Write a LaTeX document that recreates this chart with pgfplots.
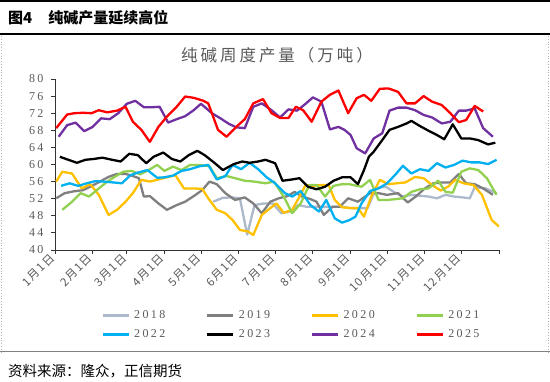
\documentclass[border=0pt]{standalone}
\usepackage{pgfplots}
\pgfplotsset{compat=1.18}
\usepackage{fontspec}
\setmainfont{Noto Sans CJK SC}
\newfontfamily\numfont{Liberation Serif}[LetterSpace=20]
\newfontfamily\spfont{Noto Sans CJK SC}[LetterSpace=18]
\newfontfamily\lblfont{Noto Sans CJK SC}[LetterSpace=10]
\definecolor{c2018}{HTML}{ACB9CA}
\definecolor{c2019}{HTML}{7F7F7F}
\definecolor{c2020}{HTML}{FFC000}
\definecolor{c2021}{HTML}{92D050}
\definecolor{c2022}{HTML}{00B0F0}
\definecolor{c2023}{HTML}{000000}
\definecolor{c2024}{HTML}{7030A0}
\definecolor{c2025}{HTML}{FF0000}
\definecolor{tickgray}{HTML}{595959}
\begin{document}
\begin{tikzpicture}
\path[use as bounding box] (0bp,0bp) rectangle (550bp,382bp);
\draw[line width=2bp] (0bp,381bp) -- (550bp,381bp);
\node[anchor=west, inner sep=0pt, font=\fontsize{15bp}{15bp}\selectfont\bfseries] at (8bp,364.5bp) {图4\hspace{16bp}纯碱产量延续高位};
\draw[line width=1.2bp] (0bp,348bp) -- (550bp,348bp);
\draw[gray!60, dotted, line width=0.8bp] (1bp,346bp) -- (1bp,30bp);
\draw[gray!60, dotted, line width=0.8bp] (548.5bp,346bp) -- (548.5bp,30bp);
\node[font=\spfont\fontsize{16.5bp}{16.5bp}\selectfont, text=tickgray, inner sep=0pt] at (277bp,327bp) {纯碱周度产量（万吨）};
\begin{axis}[
  at={(55bp,132bp)}, anchor=south west,
  scale only axis, width=444bp, height=171bp,
  xmin=0, xmax=365, ymin=40, ymax=80,
  axis x line*=bottom, axis y line*=left,
  axis line style={black!80, line width=0.8bp},
  xtick={0,31,59,90,120,151,181,212,243,273,304,334,365},
  xticklabels={1月1日,2月1日,3月1日,4月1日,5月1日,6月1日,7月1日,8月1日,9月1日,10月1日,11月1日,12月1日,{}},
  ytick={40,44,...,80},
  tick align=outside, major tick length=4bp,
  tick style={black!80, line width=0.8bp},
  xticklabel style={rotate=45, anchor=east, font=\lblfont\fontsize{11.5bp}{11.5bp}\selectfont, text=tickgray},
  yticklabel style={font=\numfont\fontsize{12bp}{12bp}\selectfont, text=tickgray, xshift=-4bp},
  /pgf/number format/assume math mode=true,
  every axis plot/.append style={line width=2.3bp, line join=round},
  legend columns=4,
  legend cell align=left,
  legend image code/.code={\draw[#1, line width=3bp] (0bp,0bp) -- (26bp,0bp);},
  legend style={at={(axis description cs:0.1036,-0.355)}, anchor=north west, draw=none, fill=none, inner sep=0pt,
    font=\numfont\fontsize{12bp}{12bp}\selectfont, text=tickgray,
    nodes={inner sep=0pt},
    /tikz/every odd column/.append style={column sep=4bp},
    /tikz/every even column/.append style={column sep=40.5bp},
    row sep=9.5bp},
]
\addplot[c2018] coordinates {(130,51.3) (138,52.2) (145,52.3) (152,52.1) (158,43.6) (164,50.5) (172,50.9) (179,50.9) (186,48.6) (193,49.0) (200,50.5) (207,50.1) (215,50.1) (222,50.1) (229,50.1) (236,50.1) (243,49.8) (250,49.8) (257,49.8) (264,54.5) (272,54.8) (279,53.5) (286,52.5) (293,52.9) (300,52.7) (307,52.5) (314,52.1) (321,52.9) (328,52.5) (335,52.3) (341,52.1) (345,54.7) (354,54.4) (363,53.3)};
\addlegendentry{2018}
\addplot[c2019] coordinates {(1,52.1) (8,53.3) (15,53.7) (23,54.0) (29,54.8) (37,56.0) (44,57.1) (51,57.8) (58,57.8) (64,57.3) (69,56.8) (73,52.5) (78,52.6) (85,50.9) (92,49.4) (100,50.5) (107,51.3) (114,52.6) (121,54.0) (127,56.0) (133,55.4) (140,53.3) (148,51.7) (156,52.3) (163,50.9) (170,48.6) (177,51.3) (184,52.1) (191,52.6) (197,53.6) (203,52.5) (210,51.9) (215,51.3) (221,48.2) (228,50.1) (234,50.1) (241,52.1) (249,51.3) (259,53.3) (266,53.3) (273,52.9) (282,53.3) (290,51.1) (297,52.6) (304,54.4) (311,55.6) (318,55.8) (325,55.8) (332,57.8) (338,55.6) (345,55.4) (352,54.4) (360,52.9)};
\addlegendentry{2019}
\addplot[c2020] coordinates {(1,56.0) (6,58.3) (14,57.9) (22,54.4) (29,55.4) (36,52.9) (44,48.2) (51,49.4) (58,51.3) (64,53.3) (71,56.4) (78,56.0) (85,56.5) (92,57.0) (99,57.5) (106,54.4) (114,54.4) (121,54.3) (126,52.1) (133,49.4) (140,48.6) (146,47.0) (152,44.7) (159,44.3) (163,43.5) (170,48.2) (177,49.8) (182,50.9) (188,48.7) (195,49.4) (201,52.5) (206,55.2) (212,55.0) (219,55.2) (225,55.2) (230,51.7) (236,50.0) (243,49.8) (249,49.8) (254,47.8) (260,52.5) (267,56.4) (274,55.4) (281,55.6) (288,55.8) (296,57.1) (303,56.8) (310,55.2) (317,53.9) (323,54.8) (329,56.4) (336,55.6) (344,55.2) (351,52.9) (359,47.0) (365,45.5)};
\addlegendentry{2020}
\addplot[c2021] coordinates {(6,49.4) (14,51.3) (21,53.3) (28,52.5) (36,54.4) (43,56.0) (49,57.1) (56,58.3) (63,58.5) (70,57.7) (77,58.7) (84,59.9) (90,58.5) (97,59.5) (104,58.7) (111,59.9) (118,59.9) (127,59.6) (133,56.8) (141,57.3) (148,56.8) (156,56.2) (164,56.0) (173,55.6) (180,56.0) (188,52.5) (195,48.6) (202,50.9) (209,55.2) (215,55.2) (222,52.5) (229,55.0) (236,55.4) (242,55.4) (245,55.2) (252,54.8) (259,56.4) (266,51.7) (273,51.7) (280,51.9) (286,52.1) (293,53.6) (300,54.2) (307,54.4) (315,56.2) (321,53.6) (327,53.4) (334,58.3) (341,59.1) (348,58.7) (355,56.8) (363,52.9)};
\addlegendentry{2021}
\addplot[c2022] coordinates {(5,55.0) (12,55.6) (19,55.0) (26,55.6) (33,56.1) (40,56.0) (48,55.8) (55,55.6) (62,57.5) (68,58.1) (76,58.7) (84,56.9) (90,57.0) (97,57.4) (104,58.5) (111,58.9) (119,59.6) (126,59.9) (133,56.5) (140,57.3) (146,59.9) (153,58.9) (160,60.4) (167,58.9) (174,57.0) (181,55.6) (189,53.3) (195,52.5) (202,53.8) (210,50.5) (217,49.0) (223,51.7) (230,47.4) (236,46.4) (242,47.0) (247,47.8) (252,50.9) (259,53.8) (266,54.4) (273,55.6) (280,57.7) (286,59.7) (293,57.9) (300,58.9) (307,58.5) (314,60.3) (321,59.3) (328,59.9) (335,60.9) (342,60.5) (349,60.5) (356,60.1) (363,61.1)};
\addlegendentry{2022}
\addplot[c2023] coordinates {(4,61.8) (11,61.1) (18,60.4) (25,61.1) (32,61.3) (39,61.6) (47,61.1) (54,60.7) (61,62.5) (68,62.2) (75,60.3) (81,61.8) (89,62.8) (96,61.3) (103,60.7) (110,62.2) (117,63.2) (123,62.2) (131,60.4) (138,58.7) (147,60.1) (154,60.7) (160,60.4) (167,60.7) (173,61.1) (181,60.3) (187,56.2) (195,56.5) (201,56.8) (208,54.8) (215,54.2) (222,54.8) (229,56.2) (236,57.0) (243,57.0) (249,55.4) (254,58.7) (258,61.8) (262,63.0) (269,65.7) (275,68.1) (282,68.8) (289,69.6) (293,70.2) (300,69.0) (307,67.9) (314,66.9) (320,65.9) (327,69.4) (334,66.1) (341,66.1) (348,65.7) (356,64.7) (362,65.1)};
\addlegendentry{2023}
\addplot[c2024] coordinates {(3,66.5) (10,69.2) (17,69.8) (24,67.8) (31,68.8) (38,70.8) (45,70.6) (52,72.0) (59,74.2) (66,74.9) (73,73.4) (80,73.4) (86,73.5) (93,69.8) (100,70.6) (107,71.3) (114,72.7) (120,74.2) (129,72.0) (136,70.8) (143,69.5) (149,68.7) (156,68.5) (163,73.5) (170,74.3) (178,72.7) (185,71.0) (192,72.9) (199,72.6) (206,74.2) (212,75.7) (219,74.7) (226,68.2) (233,68.8) (238,68.1) (243,66.9) (248,63.8) (255,62.6) (262,66.1) (269,67.3) (275,72.6) (282,73.3) (289,73.3) (296,72.7) (303,71.6) (310,71.0) (318,69.6) (325,70.0) (332,72.6) (338,72.6) (345,73.1) (352,68.5) (360,66.5)};
\addlegendentry{2024}
\addplot[c2025] coordinates {(1,68.5) (10,71.7) (16,72.0) (23,72.1) (30,72.0) (36,72.7) (43,72.2) (51,72.6) (58,73.5) (64,70.0) (71,68.1) (78,65.3) (85,68.8) (92,71.2) (100,73.5) (107,75.9) (114,75.6) (122,74.9) (126,74.3) (134,68.1) (141,66.5) (149,68.8) (156,70.6) (163,74.3) (171,75.3) (178,72.0) (185,70.9) (192,70.9) (198,73.5) (204,72.7) (211,70.0) (219,74.7) (226,76.3) (233,77.3) (241,72.0) (248,75.5) (254,76.3) (260,74.9) (267,77.7) (274,77.8) (282,77.0) (289,74.3) (296,74.3) (303,76.0) (310,74.7) (318,73.9) (325,72.0) (332,69.9) (338,70.4) (345,73.7) (352,72.4)};
\addlegendentry{2025}
\end{axis}
\draw[gray, line width=1bp] (0bp,30bp) -- (550bp,30bp);
\node[anchor=west, inner sep=0pt, font=\fontsize{14.5bp}{14.5bp}\selectfont] at (8bp,11bp) {资料来源：隆众，正信期货};
\end{tikzpicture}
\end{document}
